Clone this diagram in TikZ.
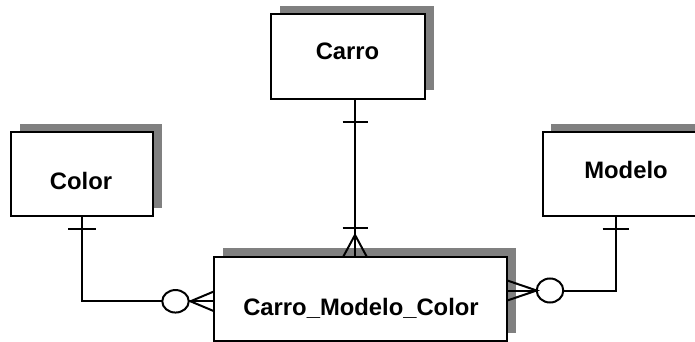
\documentclass[tikz,border=0pt]{standalone}
\usepackage{fontspec}
\setmainfont{Liberation Sans}
\usetikzlibrary{calc,shadows,shapes.geometric}
\definecolor{shadowgray}{RGB}{128,128,128}

\begin{document}
\begin{tikzpicture}[x=1pt,y=-1pt,
  entity/.style={draw, line width=2pt, fill=white, inner sep=0pt, outer sep=0pt,
    minimum height=84.4pt,
    drop shadow={shadow xshift=8.6pt, shadow yshift=8.3pt, fill=shadowgray, opacity=1}},
  title/.style={anchor=base, inner sep=0pt, font=\bfseries\fontsize{23.8}{28}\selectfont},
  link/.style={line width=2pt, line cap=butt, line join=miter},
  optional/.style={ellipse, draw, line width=2pt, fill=white, inner sep=0pt, outer sep=0pt},
]
\useasboundingbox (0,0) rectangle (695,342);
\clip (0,0) rectangle (695,342);

% entities
\node[entity, minimum width=154pt] (carro)  at (348,56.5)    {};
\node[entity, minimum width=142pt] (color)  at (82,174.2)    {};
\node[entity, minimum width=157.3pt] (modelo) at (621.35,174.2) {};
\node[entity, minimum width=293pt] (cmc)    at (360.8,298.8) {};

% entity names
\node[title] (carrot)  at (347.5,59.3) {Carro};
\node[title] (colort)  at (81,189)     {Color};
\node[title] (modelot) at (626,178.3)  {Modelo};
\node[title] (cmct)    at (361,315)    {Carro\_Modelo\_Color};

% Carro -- Carro_Modelo_Color : one to one-or-many
\coordinate (cx) at (355,0);
\draw[link] (carro.south -| cx) -- (cmc.north -| cx);
\draw[link] ($(carro.south -| cx)+(-12.5,23.7)$) -- ++(25,0);
\draw[link] ($(cmc.north -| cx)+(-12.5,-28.4)$) -- ++(25,0);
\draw[link] ($(cmc.north -| cx)+(-11.7,0)$) -- ($(cmc.north -| cx)+(0,-21.7)$)
  -- ($(cmc.north -| cx)+(11.7,0)$);

% Color -- Carro_Modelo_Color : one to zero-or-many
\node[optional, minimum width=26.5pt, minimum height=22.5pt] (lo) at (175.5,301.3) {};
\draw[link] (color.south) |- (lo.west);
\draw[link] ($(color.south)+(-13.7,12.3)$) -- ++(27.4,0);
\coordinate (lapex) at ($(lo.east)+(1.7,0)$);
\draw[link] ($(lapex -| cmc.west)+(0,-10)$) -- (lapex) -- ($(lapex -| cmc.west)+(0,10)$);
\draw[link] (lo.east) -- (lapex -| cmc.west);

% Modelo -- Carro_Modelo_Color : one to zero-or-many
\coordinate (mx) at (615.7,0);
\node[optional, minimum width=26.6pt, minimum height=24pt] (ro) at (550,290.5) {};
\draw[link] (ro.east) -| (modelo.south -| mx);
\draw[link] ($(modelo.south -| mx)+(-13,12.3)$) -- ++(26,0);
\draw[link] ($(ro.west -| cmc.east)+(0,-10)$) -- (ro.west) -- ($(ro.west -| cmc.east)+(0,10)$);
\draw[link] (ro.west) -- (ro.west -| cmc.east);
\end{tikzpicture}
\end{document}
